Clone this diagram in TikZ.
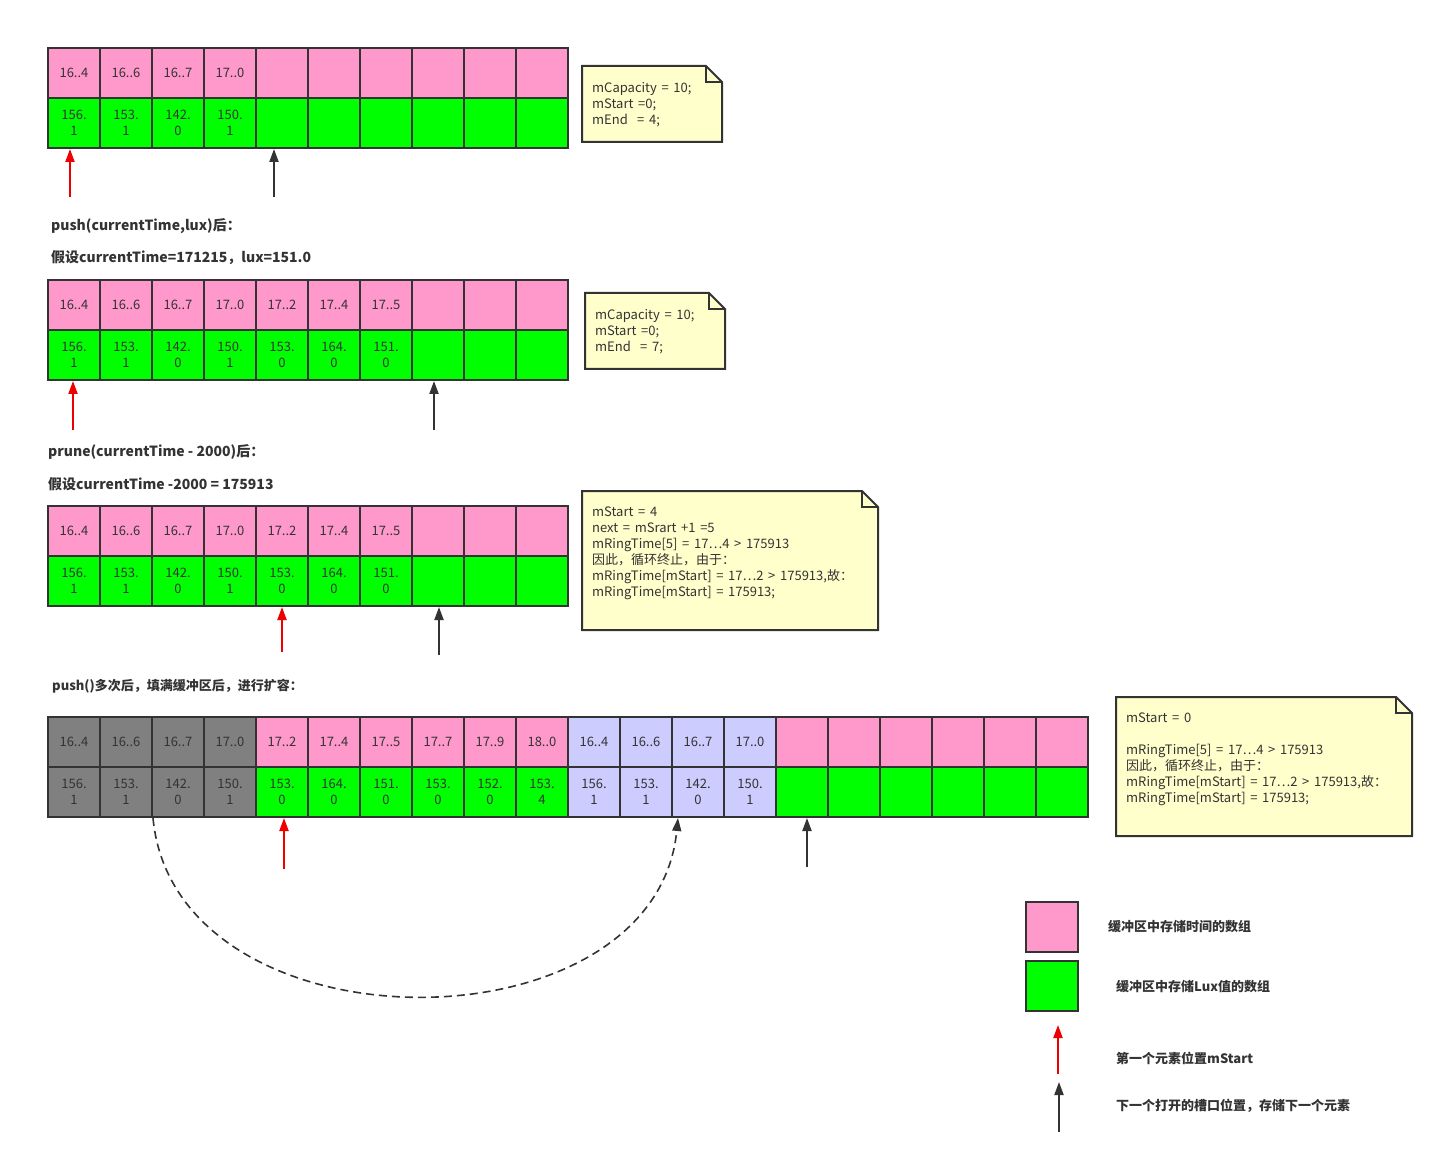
\documentclass[tikz,border=0pt]{standalone}
\usepackage{fontspec}
\setmainfont{Noto Sans CJK SC}
\newfontfamily\notefont[WordSpace=1.6]{Noto Sans CJK SC}
\usetikzlibrary{arrows.meta,calc}
\definecolor{pinkc}{HTML}{FF99CC}
\definecolor{greenc}{HTML}{00FF00}
\definecolor{grayc}{HTML}{808080}
\definecolor{lavc}{HTML}{CCCCFF}
\definecolor{notec}{HTML}{FFFFCC}
\definecolor{linec}{HTML}{333333}
\definecolor{redc}{HTML}{EE0000}
\tikzset{
  cellbox/.style={draw=linec, line width=2pt, minimum width=52pt, minimum height=50pt, inner sep=0pt, align=center, text=linec, font=\fontsize{13}{16}\selectfont},
  tcell/.style={cellbox, fill=pinkc},
  vcell/.style={cellbox, fill=greenc},
  gcell/.style={cellbox, fill=grayc},
  lcell/.style={cellbox, fill=lavc},
  notebg/.style={draw=linec, line width=2pt, fill=notec, line join=miter},
  notetext/.style={anchor=north west, align=left, inner sep=0pt, text=linec, font=\notefont\fontsize{13}{16}\selectfont},
  lbl/.style={anchor=west, inner sep=0pt, text=linec, font=\fontsize{14}{16}\selectfont\bfseries},
  lbls/.style={lbl, font=\fontsize{13}{16}\selectfont\bfseries},
  redarrow/.style={draw=redc, line width=2pt, -{Triangle[length=13pt,width=9pt]}},
  blkarrow/.style={draw=linec, line width=2pt, -{Triangle[length=13pt,width=9pt]}},
}
\newcommand\mynote[5]{% name, x1, y1, x2, y2
  \draw[notebg] (#2,#3) -- ({#4-16},#3) -- (#4,{#3+16}) -- (#4,#5) -- (#2,#5) -- cycle;
  \draw[linec, line width=2pt] ({#4-16},#3) -- ({#4-16},{#3+16}) -- (#4,{#3+16});
  \coordinate (#1) at ({#2+10},{#3+16});
}
\begin{document}
\begin{tikzpicture}[x=1pt,y=-1pt]
\useasboundingbox (0,0) rectangle (1444,1166);

% ---------- Row 1 ----------
\foreach \i/\t/\u/\v in {0/16..4/156./1,1/16..6/153./1,2/16..7/142./0,3/17..0/150./1,4///,5///,6///,7///,8///,9///}{
  \node[tcell] (ra\i) at ({74+52*\i},73) {\t};
  \node[vcell] (rb\i) at ({74+52*\i},123) {\u\\\v};
}
\coordinate (a1) at (70,197);
\coordinate (a2) at (274,197);
\draw[redarrow] (a1) -- (a1 |- rb0.south);
\draw[blkarrow] (a2) -- (a2 |- rb4.south);
\mynote{n1}{582}{66}{722}{142}
\node[notetext] (n1t) at (n1) {mCapacity = 10;\\mStart =0;\\mEnd\ \ = 4;};

\node[lbl] (l1) at (51,226) {push(currentTime,lux)后：};
\node[lbl] (l2) at (51,258) {假设currentTime=171215，lux=151.0};

% ---------- Row 2 ----------
\foreach \i/\t/\u/\v in {0/16..4/156./1,1/16..6/153./1,2/16..7/142./0,3/17..0/150./1,4/17..2/153./0,5/17..4/164./0,6/17..5/151./0,7///,8///,9///}{
  \node[tcell] (sa\i) at ({74+52*\i},305) {\t};
  \node[vcell] (sb\i) at ({74+52*\i},355) {\u\\\v};
}
\coordinate (b1) at (73,430);
\coordinate (b2) at (434,430);
\draw[redarrow] (b1) -- (b1 |- sb0.south);
\draw[blkarrow] (b2) -- (b2 |- sb7.south);
\mynote{n2}{585}{293}{725}{369}
\node[notetext] (n2t) at (n2) {mCapacity = 10;\\mStart =0;\\mEnd\ \ = 7;};

\node[lbl] (l3) at (48,452) {prune(currentTime - 2000)后：};
\node[lbl] (l4) at (48,484) {假设currentTime -2000 = 175913};

% ---------- Row 3 ----------
\foreach \i/\t/\u/\v in {0/16..4/156./1,1/16..6/153./1,2/16..7/142./0,3/17..0/150./1,4/17..2/153./0,5/17..4/164./0,6/17..5/151./0,7///,8///,9///}{
  \node[tcell] (ta\i) at ({74+52*\i},531) {\t};
  \node[vcell] (tb\i) at ({74+52*\i},581) {\u\\\v};
}
\coordinate (c1) at (282,652);
\coordinate (c2) at (439,655);
\draw[redarrow] (c1) -- (c1 |- tb4.south);
\draw[blkarrow] (c2) -- (c2 |- tb7.south);
\mynote{n3}{582}{491}{878}{630}
\node[notetext] (n3t) at (n3) {mStart = 4\\next = mSrart +1 =5\\mRingTime[5] = 17…4 > 175913\\因此，循环终止，由于：\\mRingTime[mStart] = 17…2 > 175913,故：\\mRingTime[mStart] = 175913;};

\node[lbls] (l5) at (52,686) {push()多次后，填满缓冲区后，进行扩容：};

% ---------- Row 4 ----------
\foreach \i/\t/\u/\v in {0/16..4/156./1,1/16..6/153./1,2/16..7/142./0,3/17..0/150./1}{
  \node[gcell] (ua\i) at ({74+52*\i},742) {\t};
  \node[gcell] (ub\i) at ({74+52*\i},792) {\u\\\v};
}
\foreach \i/\t/\u/\v in {4/17..2/153./0,5/17..4/164./0,6/17..5/151./0,7/17..7/153./0,8/17..9/152./0,9/18..0/153./4,14///,15///,16///,17///,18///,19///}{
  \node[tcell] (ua\i) at ({74+52*\i},742) {\t};
  \node[vcell] (ub\i) at ({74+52*\i},792) {\u\\\v};
}
\foreach \i/\t/\u/\v in {10/16..4/156./1,11/16..6/153./1,12/16..7/142./0,13/17..0/150./1}{
  \node[lcell] (ua\i) at ({74+52*\i},742) {\t};
  \node[lcell] (ub\i) at ({74+52*\i},792) {\u\\\v};
}
\coordinate (d1) at (284,869);
\coordinate (d2) at (807,867);
\draw[redarrow] (d1) -- (d1 |- ub4.south);
\draw[blkarrow] (d2) -- (d2 |- ub14.south);
\coordinate (cs) at (153,818);
\coordinate (ce) at (678,818);
\draw[draw=linec, line width=1.6pt, dash pattern=on 8pt off 5pt, -{Triangle[length=13pt,width=9pt]}]
  (cs) .. controls (175,1055) and (655,1055) .. (ce);
\mynote{n4}{1116}{697}{1412}{836}
\node[notetext] (n4t) at (n4) {mStart = 0\\[16pt]mRingTime[5] = 17…4 > 175913\\因此，循环终止，由于：\\mRingTime[mStart] = 17…2 > 175913,故：\\mRingTime[mStart] = 175913;};

% ---------- Legend ----------
\node[tcell] (lg1) at (1052,927) {};
\node[vcell] (lg2) at (1052,986) {};
\node[lbls] (lt1) at (1108,927) {缓冲区中存储时间的数组};
\node[lbls] (lt2) at (1116,987) {缓冲区中存储Lux值的数组};
\coordinate (e1) at (1058,1074);
\coordinate (e2) at (1058,1025);
\draw[redarrow] (e1) -- (e2);
\node[lbls] (lt3) at (1116,1058) {第一个元素位置mStart};
\coordinate (f1) at (1059,1132);
\coordinate (f2) at (1059,1082);
\draw[blkarrow] (f1) -- (f2);
\node[lbls] (lt4) at (1116,1106) {下一个打开的槽口位置，存储下一个元素};
\end{tikzpicture}
\end{document}
